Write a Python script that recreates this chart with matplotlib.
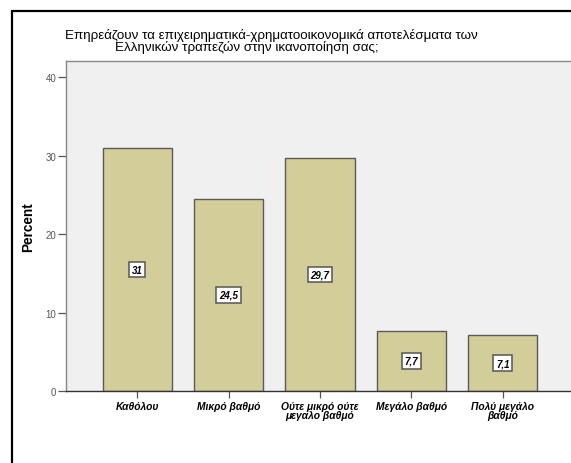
import matplotlib
matplotlib.use("Agg")
import matplotlib.pyplot as plt
from matplotlib.patches import Rectangle

categories = ["Καθόλου", "Μικρό βαθμό", "Ούτε μικρό ούτε\nμεγαλο βαθμό",
              "Μεγάλο βαθμό", "Πολύ μεγάλο\nβαθμό"]
percent = [31.0, 24.5, 29.7, 7.7, 7.1]
value_labels = ["31", "24,5", "29,7", "7,7", "7,1"]
yticks = [0, 10, 20, 30, 40]

W, H = 571, 464
fig = plt.figure(figsize=(W / 100, H / 100), dpi=100)
plt.rcParams["font.family"] = ["Liberation Sans", "DejaVu Sans"]

# outer chart frame (runs off the right and bottom edges)
fig.patches.append(Rectangle((11.5 / W, -0.1), 1.2, 1.1 - 12.5 / H,
                             transform=fig.transFigure, fill=False,
                             edgecolor="black", linewidth=1.6))

left, right, top, bottom = 66, 574, 62, 392
ax = fig.add_axes([left / W, 1 - bottom / H, (right - left) / W, (bottom - top) / H])
ax.set_facecolor("#F0F0F0")

x = list(range(len(categories)))
bars = ax.bar(x, percent, width=0.755, color="#D3CE99", edgecolor="#5A5A5A",
              linewidth=1.0, zorder=2)
ax.set_xlim(-0.777, len(categories) - 1 + 0.777)
ax.set_ylim(0, 42.1)

for xi, v, lab in zip(x, percent, value_labels):
    ax.text(xi, v / 2, lab, ha="center", va="center", fontsize=7,
            fontweight="bold", fontstyle="italic", zorder=3,
            bbox=dict(boxstyle="square,pad=0.28", facecolor="white",
                      edgecolor="#555555", linewidth=1.1))

ax.set_yticks(yticks)
ax.set_yticklabels([str(t) for t in yticks], fontsize=7, color="#555555")
ax.set_xticks(x)
ax.set_xticklabels(categories, fontsize=7.4, fontweight="bold",
                   fontstyle="italic", linespacing=0.95)
ax.tick_params(axis="y", length=6, width=0.9, color="#555555", pad=1)
ax.tick_params(axis="x", length=5, width=0.9, color="#555555", pad=2)

for s in ["top", "left", "right"]:
    ax.spines[s].set_color("#888888")
    ax.spines[s].set_linewidth(1.0)
ax.spines["bottom"].set_color("#333333")
ax.spines["bottom"].set_linewidth(1.0)

ax.set_ylabel("Percent", fontsize=9.8, fontweight="bold")
ax.yaxis.set_label_coords(-31 / (right - left), 0.5)

fig.text(271 / W, 1 - 35 / H, "Επηρεάζουν τα επιχειρηματικά-χρηματοοικονομικά αποτελέσματα των",
         ha="center", va="center", fontsize=9.6)
fig.text(247 / W, 1 - 47.5 / H, "Ελληνικών τραπεζών στην ικανοποίηση σας;",
         ha="center", va="center", fontsize=9.6)

fig.savefig("out.png", dpi=100)
